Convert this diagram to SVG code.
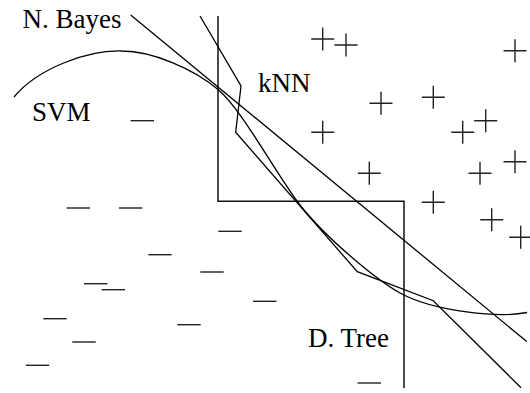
<svg xmlns="http://www.w3.org/2000/svg" width="530" height="393" viewBox="0 0 530 393">
<style>
.ln{fill:none;stroke:#000;stroke-width:1.3;stroke-linejoin:miter}
.dt{fill:none;stroke:#111;stroke-width:1.5}
.mk{fill:none;stroke:#222;stroke-width:1.4}
.lbl{font-family:"Liberation Serif","Times New Roman",serif;font-size:27px;fill:#000}
</style>
<defs>
<path id="plus" class="mk" d="M-11.5,0H11.5M0,-11.5V11.5"/>
<path id="minus" class="mk" d="M-11.7,0H11.7"/>
</defs>
<rect width="530" height="393" fill="#fff"/>
<g id="boundaries">
<path id="dtree" class="dt" d="M218,16V201.3H404V388"/>
<path id="nbayes" class="ln" d="M130.7,15L526.7,341.5"/>
<path id="knn" class="ln" d="M200,16L241,86L235.7,132.3L357.3,271.7L433.3,300.7L521,387.7"/>
<path id="svm" class="ln" d="M14,97C38,68 88,50 122,51C152,51 194,69 218,89.5C243,110.5 275,173 300,205C325,237 375,279 400,293C435,312 500,318 527,312.5"/>
</g>
<g id="labels">
<text class="lbl" x="22.5" y="27.7">N. Bayes</text>
<text class="lbl" x="32" y="120.7">SVM</text>
<text class="lbl" x="258" y="92">kNN</text>
<text class="lbl" x="308" y="347">D. Tree</text>
</g>
<g id="positives">
<use href="#plus" x="322.7" y="39"/>
<use href="#plus" x="346" y="45"/>
<use href="#plus" x="515" y="50.7"/>
<use href="#plus" x="381" y="103.3"/>
<use href="#plus" x="433.3" y="97.3"/>
<use href="#plus" x="485.7" y="120.7"/>
<use href="#plus" x="462.7" y="132.3"/>
<use href="#plus" x="322.7" y="132.3"/>
<use href="#plus" x="369.3" y="173.3"/>
<use href="#plus" x="480" y="173.3"/>
<use href="#plus" x="515" y="161.7"/>
<use href="#plus" x="433.3" y="202.3"/>
<use href="#plus" x="491.7" y="219.7"/>
<use href="#plus" x="520.7" y="237.3"/>
</g>
<g id="negatives">
<use href="#minus" x="142.3" y="120.7"/>
<use href="#minus" x="78.3" y="208"/>
<use href="#minus" x="130.7" y="208"/>
<use href="#minus" x="230" y="231.3"/>
<use href="#minus" x="160" y="254.7"/>
<use href="#minus" x="212" y="272"/>
<use href="#minus" x="95.7" y="283.7"/>
<use href="#minus" x="113.3" y="289.7"/>
<use href="#minus" x="264.8" y="301.3"/>
<use href="#minus" x="55" y="318.7"/>
<use href="#minus" x="189" y="324.7"/>
<use href="#minus" x="84" y="342"/>
<use href="#minus" x="37.5" y="365.3"/>
<use href="#minus" x="369.3" y="383"/>
</g>
</svg>
